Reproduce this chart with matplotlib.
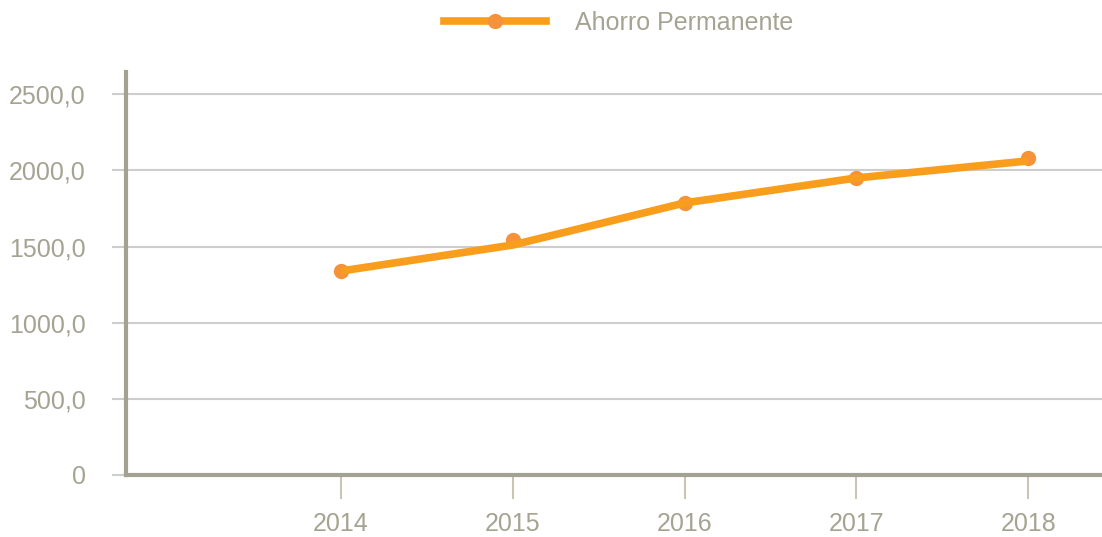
import numpy as np
import matplotlib
matplotlib.use('Agg')
import matplotlib.pyplot as plt
from matplotlib.lines import Line2D

# data
years = ['2014', '2015', '2016', '2017', '2018']
ahorro_puntos = [1339, 1543, 1786, 1950, 2079]
ahorro_linea = [1339, 1510, 1786, 1950, 2062]
y_ticks = [0, 500, 1000, 1500, 2000, 2500]
y_labels = ['0', '500,0', '1000,0', '1500,0', '2000,0', '2500,0']

text_color = '#a5a392'
spine_color = '#a3a192'
grid_color = '#cdcdcd'
line_color = '#f99d1c'
marker_color = '#f5923a'

plt.rcParams['font.family'] = ['Liberation Sans', 'DejaVu Sans']

fig = plt.figure(figsize=(11.02, 5.37), dpi=100)
ax = fig.add_axes([0.1143, 0.1155, 0.8857, 0.7505])

x = np.arange(len(years))
ax.plot(x, ahorro_puntos, 'o', color=marker_color, markersize=10, zorder=3)
ax.plot(x, ahorro_linea, '-', color=line_color, linewidth=5.5, zorder=4,
        solid_capstyle='butt')

ax.set_xlim(-1.252, 4.43)
ax.set_ylim(0, 2646)
ax.set_xticks(x)
ax.set_xticklabels(years)
ax.set_yticks(y_ticks)
ax.set_yticklabels(y_labels)

ax.grid(axis='y', color=grid_color, linewidth=1.5)
ax.set_axisbelow(True)

for s in ['top', 'right']:
    ax.spines[s].set_visible(False)
for s in ['left', 'bottom']:
    ax.spines[s].set_color(spine_color)
    ax.spines[s].set_linewidth(3)
    ax.spines[s].set_zorder(5)

ax.tick_params(axis='y', length=10, width=1.5, color=grid_color, pad=19,
               labelsize=18, labelcolor=text_color)
ax.tick_params(axis='x', length=17, width=1.5, color='#c8c5b5', pad=10,
               labelsize=18, labelcolor=text_color)

handle = Line2D([], [], color=line_color, linewidth=5.5, marker='o',
                markersize=10, markerfacecolor=marker_color,
                markeredgecolor=marker_color)
fig.legend([handle], ['Ahorro Permanente'], loc='center',
           bbox_to_anchor=(0.561, 0.957), frameon=False, fontsize=18,
           handlelength=4.08, handletextpad=1.16, labelcolor=text_color)

fig.savefig('out.png', dpi=100)
